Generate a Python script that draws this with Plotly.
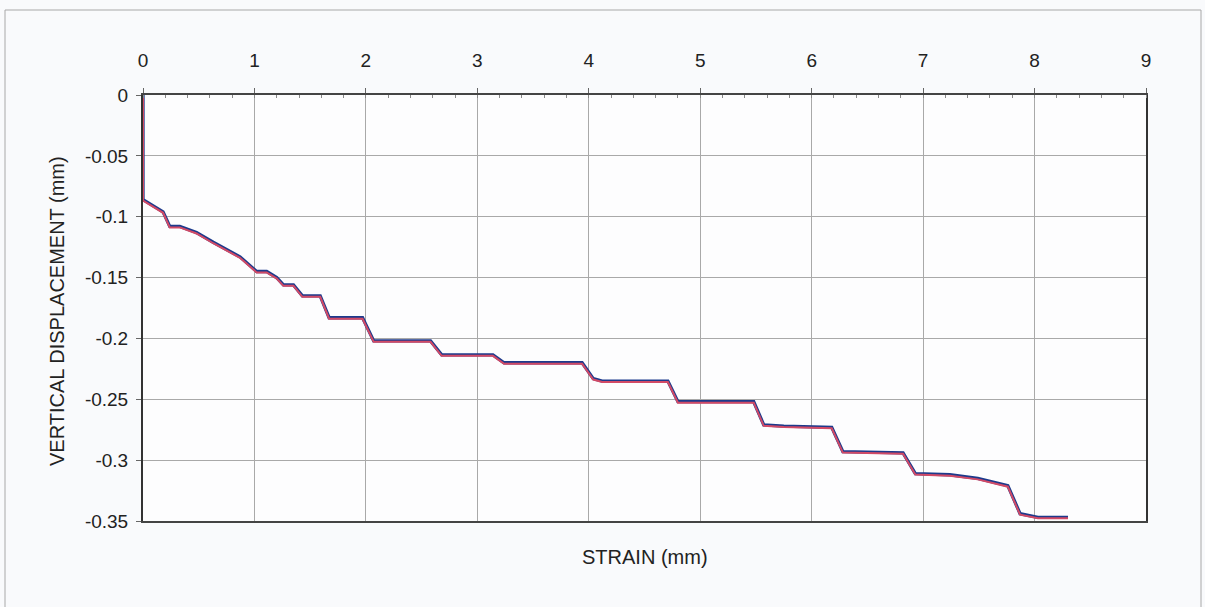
import plotly.graph_objects as go

# Data
strain = [0, 0, 0.18, 0.24, 0.33, 0.48, 0.63, 0.87, 1.02, 1.11,
          1.20, 1.26, 1.35, 1.43, 1.59, 1.67, 1.97, 2.07, 2.58, 2.68,
          3.14, 3.24, 3.94, 4.04, 4.12, 4.71, 4.80, 5.48, 5.57, 5.75,
          6.18, 6.28, 6.82, 6.93, 7.24, 7.49, 7.76, 7.87, 8.03, 8.30]
displacement = [0, -0.086, -0.096, -0.108, -0.108, -0.113, -0.121, -0.133, -0.145, -0.145,
                -0.150, -0.156, -0.156, -0.165, -0.165, -0.183, -0.183, -0.202, -0.202, -0.2135,
                -0.2135, -0.220, -0.220, -0.233, -0.235, -0.235, -0.252, -0.252, -0.271, -0.272,
                -0.273, -0.293, -0.294, -0.311, -0.312, -0.315, -0.321, -0.344, -0.347, -0.347]

x_ticks = [0, 1, 2, 3, 4, 5, 6, 7, 8, 9]
y_ticks = [0, -0.05, -0.1, -0.15, -0.2, -0.25, -0.3, -0.35]
y_tick_labels = ["0", "-0.05", "-0.1", "-0.15", "-0.2", "-0.25", "-0.3", "-0.35"]

W, H = 1205, 607
L, R, T, B = 143, 59, 95, 86
pw, ph = W - L - R, H - T - B

def px(xpix):
    return (xpix - L) / pw

def py(ypix):
    return (H - B - ypix) / ph

fig = go.Figure()
# faint red scan shadow under the blue line
fig.add_trace(go.Scatter(
    x=strain, y=displacement, mode="lines",
    line=dict(color="#d24a66", width=2),
    hoverinfo="skip", showlegend=False,
    xaxis="x", yaxis="y2",
))
fig.add_trace(go.Scatter(
    x=strain, y=displacement, mode="lines",
    line=dict(color="#1c3a8c", width=3.3),
    showlegend=False,
))

font_family = "Liberation Sans, Arial, sans-serif"

fig.update_layout(
    width=W, height=H,
    margin=dict(l=L, r=R, t=T, b=B),
    paper_bgcolor="#f9fafc",
    plot_bgcolor="#fdfdfe",
    font=dict(family=font_family, size=19, color="#222"),
    xaxis=dict(
        side="top", range=[0, 9], tickvals=x_ticks,
        ticktext=[str(v) for v in x_ticks],
        showgrid=True, gridcolor="#a9a9a9", gridwidth=1,
        showline=True, linecolor="#444", linewidth=1.5, mirror=True,
        ticks="outside", ticklen=5, tickcolor="#666",
        ticklabelstandoff=14,
        minor=dict(dtick=0.2, ticks="inside", ticklen=3, tickcolor="#888", showgrid=False),
        zeroline=False, tickfont=dict(size=19, color="#222"),
    ),
    yaxis=dict(
        range=[-0.35, 0], tickvals=y_ticks, ticktext=y_tick_labels,
        showgrid=True, gridcolor="#a9a9a9", gridwidth=1,
        showline=True, linecolor="#333", linewidth=2, mirror=True,
        ticks="outside", ticklen=5, tickcolor="#666",
        ticklabelstandoff=4,
        zeroline=False, tickfont=dict(size=19, color="#222"),
    ),
    yaxis2=dict(
        range=[-0.35 + 0.0008, 0.0008], overlaying="y", visible=False,
    ),
    annotations=[
        dict(
            text="STRAIN (mm)", xref="paper", yref="paper",
            x=0.5, y=py(557), xanchor="center", yanchor="middle",
            showarrow=False, font=dict(size=20, color="#222"),
        ),
        dict(
            text="VERTICAL DISPLACEMENT (mm)", xref="paper", yref="paper",
            x=px(57), y=py(311), xanchor="center", yanchor="middle",
            textangle=-90, showarrow=False, font=dict(size=20, color="#222"),
        ),
    ],
    shapes=[dict(
        type="rect", xref="paper", yref="paper",
        x0=px(5), x1=px(1201), y0=py(640), y1=py(10),
        line=dict(color="#a8a8a8", width=1), layer="below",
    )],
)

fig.write_html(
    "out.html",
    config={"displayModeBar": False},
    post_script="document.body.style.margin='0';document.body.style.padding='0';",
)
